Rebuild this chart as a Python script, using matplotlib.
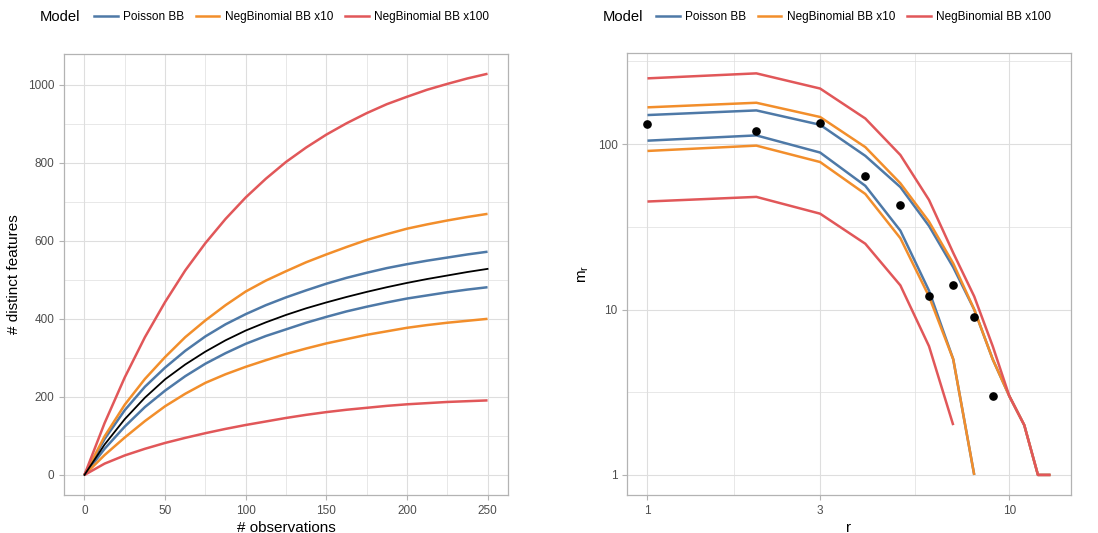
import numpy as np
import matplotlib.pyplot as plt
from matplotlib.lines import Line2D
from matplotlib.ticker import FixedLocator, NullFormatter

plt.rcParams['font.family'] = ['Liberation Sans', 'DejaVu Sans']

# rarefaction curves: number of observations vs distinct features
obs = [0, 12.5, 25, 37.5, 50, 62.5, 75, 87.5, 100, 112.5, 125, 137.5, 150,
       162.5, 175, 187.5, 200, 212.5, 225, 237.5, 250]
observed = [0, 78, 143, 198, 245, 283, 316, 345, 370, 391, 410, 427, 442,
            456, 469, 481, 492, 502, 511, 520, 528]
pois_hi = [0, 92, 166, 226, 275, 318, 355, 386, 412, 435, 455, 473, 490,
           505, 518, 530, 540, 549, 557, 565, 572]
pois_lo = [0, 67, 124, 174, 216, 253, 285, 312, 336, 356, 373, 390, 405,
           419, 431, 442, 452, 460, 468, 475, 481]
nb10_hi = [0, 99, 180, 246, 302, 353, 396, 435, 470, 498, 522, 545, 565,
           584, 602, 617, 631, 642, 652, 661, 669]
nb10_lo = [0, 51, 96, 138, 176, 208, 236, 258, 277, 294, 310, 324, 337,
           348, 359, 368, 377, 384, 390, 395, 400]
nb100_hi = [0, 133, 250, 353, 443, 524, 594, 656, 711, 759, 802, 839, 872,
            901, 927, 950, 969, 987, 1002, 1016, 1028]
nb100_lo = [0, 29, 50, 67, 82, 95, 107, 118, 128, 137, 146, 154, 161,
            167, 172, 177, 181, 184, 187, 189, 191]

# frequency counts m_r by frequency r
r_obs = [1, 2, 3, 4, 5, 6, 7, 8, 9]
m_obs = [132, 120, 134, 64, 43, 12, 14, 9, 3]
r_all = [1, 2, 3, 4, 5, 6, 7, 8, 9, 10, 11, 12, 13]
m_pois_hi = [150, 160, 131, 85, 55, 32, 18, 10, 5, 3, 2, 1, 1]
m_pois_lo = [105, 113, 89, 56, 30, 13, 5, 1]
m_nb10_hi = [167, 178, 146, 96, 58, 34, 19, 10, 5, 3, 2, 1, 1]
m_nb10_lo = [91, 98, 78, 50, 27, 12, 5, 1]
m_nb100_hi = [250, 268, 217, 143, 86, 46, 22, 12, 6, 3, 2, 1, 1]
m_nb100_lo = [45, 48, 38, 25, 14, 6, 2]

models = ['Poisson BB', 'NegBinomial BB x10', 'NegBinomial BB x100']
colors = ['#4E79A7', '#F28E2B', '#E15759']

GRID = '#DEDEDE'
BORDER = '#B3B3B3'
TICKLAB = '#4D4D4D'
LW = 1.8


def style_axes(ax):
    ax.set_facecolor('white')
    for s in ax.spines.values():
        s.set_color(BORDER)
        s.set_linewidth(0.9)
    ax.grid(which='major', color=GRID, lw=0.8)
    ax.grid(which='minor', color=GRID, lw=0.5)
    ax.set_axisbelow(True)
    ax.tick_params(which='major', colors=BORDER, labelcolor=TICKLAB,
                   labelsize=8.5, length=3.5, width=0.8)
    ax.tick_params(which='minor', length=0)


fig = plt.figure(figsize=(10.98, 5.33), dpi=100)
W, H = 1098, 533
ax1 = fig.add_axes([64.3 / W, 1 - 495 / H, 443.4 / W, 441.3 / H])
ax2 = fig.add_axes([627.3 / W, 1 - 495 / H, 443.4 / W, 441.7 / H])

# left panel
for hi, lo, c in zip([pois_hi, nb10_hi, nb100_hi], [pois_lo, nb10_lo, nb100_lo], colors):
    ax1.plot(obs, hi, color=c, lw=LW, solid_capstyle='butt')
    ax1.plot(obs, lo, color=c, lw=LW, solid_capstyle='butt')
ax1.plot(obs, observed, color='black', lw=1.3)
ax1.set_xlim(-12.5, 262.5)
ax1.set_ylim(-51.4, 1079.4)
ax1.xaxis.set_major_locator(FixedLocator([0, 50, 100, 150, 200, 250]))
ax1.xaxis.set_minor_locator(FixedLocator([25, 75, 125, 175, 225]))
ax1.yaxis.set_major_locator(FixedLocator([0, 200, 400, 600, 800, 1000]))
ax1.yaxis.set_minor_locator(FixedLocator([100, 300, 500, 700, 900]))
style_axes(ax1)
ax1.set_xlabel('# observations', fontsize=11, labelpad=3)
ax1.set_ylabel('# distinct features', fontsize=11, labelpad=5)

# right panel, log-log
for hi, lo, c in zip([m_pois_hi, m_nb10_hi, m_nb100_hi], [m_pois_lo, m_nb10_lo, m_nb100_lo], colors):
    ax2.plot(r_all[:len(hi)], hi, color=c, lw=LW, solid_capstyle='butt')
    ax2.plot(r_all[:len(lo)], lo, color=c, lw=LW, solid_capstyle='butt')
ax2.plot(r_obs, m_obs, 'o', color='black', ms=5.2, zorder=5)
ax2.set_xscale('log')
ax2.set_yscale('log')
ax2.set_xlim(10 ** -0.0557, 10 ** 1.1697)
ax2.set_ylim(10 ** -0.1214, 10 ** 2.5495)
ax2.xaxis.set_major_locator(FixedLocator([1, 3, 10]))
ax2.xaxis.set_minor_locator(FixedLocator([10 ** 0.2386, 10 ** 0.7386]))
ax2.xaxis.set_major_formatter(plt.FuncFormatter(lambda v, p: '%g' % v))
ax2.xaxis.set_minor_formatter(NullFormatter())
ax2.yaxis.set_major_locator(FixedLocator([1, 10, 100]))
ax2.yaxis.set_minor_locator(FixedLocator([10 ** 0.5, 10 ** 1.5, 10 ** 2.5]))
ax2.yaxis.set_major_formatter(plt.FuncFormatter(lambda v, p: '%g' % v))
ax2.yaxis.set_minor_formatter(NullFormatter())
style_axes(ax2)
ax2.set_xlabel('r', fontsize=11, labelpad=3)
ax2.set_ylabel(r'$\mathregular{m_r}$', fontsize=11, labelpad=5)

# legends above each panel
handles = [Line2D([], [], color=c, lw=LW) for c in colors]
for title_x, leg_x in [(40, 94), (603, 656)]:
    fig.text(title_x / W, 1 - 17 / H, 'Model', fontsize=10.6, va='center', ha='left')
    fig.legend(handles, models, loc='center left', bbox_to_anchor=(leg_x / W, 1 - 17 / H),
               ncol=3, frameon=False, fontsize=8.5, handlelength=2.0,
               handletextpad=0.45, columnspacing=1.0, borderpad=0, borderaxespad=0)

fig.savefig('out.png', dpi=100, facecolor='white')
